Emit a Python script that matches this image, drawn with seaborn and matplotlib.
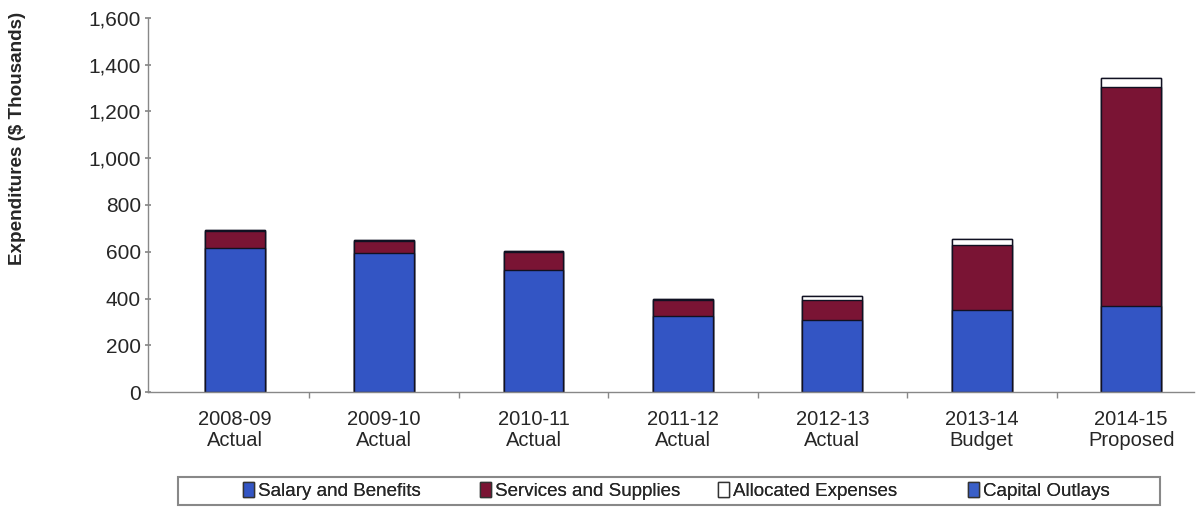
import matplotlib
matplotlib.use("Agg")
import matplotlib.pyplot as plt
from matplotlib.patches import Patch, Rectangle
from matplotlib.ticker import FuncFormatter, FixedLocator
import seaborn as sns
import pandas as pd
import numpy as np

categories = ["2008-09\nActual", "2009-10\nActual", "2010-11\nActual", "2011-12\nActual",
              "2012-13\nActual", "2013-14\nBudget", "2014-15\nProposed"]
salary = [615, 595, 520, 325, 310, 350, 370]
services = [75, 50, 80, 70, 85, 280, 935]
allocated = [5, 5, 5, 3, 15, 25, 38]
capital = [0, 0, 0, 0, 0, 0, 0]

series_names = ["Salary and Benefits", "Services and Supplies", "Allocated Expenses", "Capital Outlays"]
colors = ["#3355c4", "#7a1434", "#ffffff", "#3a5fc8"]

sns.set_theme(style="white")
plt.rcParams['font.family'] = ['Liberation Sans', 'DejaVu Sans']

df = pd.DataFrame({"cat": categories, "salary": salary, "services": services,
                   "allocated": allocated, "capital": capital})
df["c1"] = df["salary"]
df["c2"] = df["c1"] + df["services"]
df["c3"] = df["c2"] + df["allocated"]
df["c4"] = df["c3"] + df["capital"]

fig = plt.figure(figsize=(12.03, 5.08), dpi=100)
ax = fig.add_axes([148/1203, 1 - 392/508, (1194-148)/1203, (392-18)/508])

for col, c in zip(["c4", "c3", "c2", "c1"], [colors[3], colors[2], colors[1], colors[0]]):
    sns.barplot(data=df, x="cat", y=col, color=c, width=0.4, edgecolor="#111122",
                linewidth=1.0, saturation=1, ax=ax, errorbar=None)

ax.set_ylim(0, 1600)
ax.set_xlim(-0.58, 6.42)
ax.set_yticks(np.arange(0, 1601, 200))
ax.yaxis.set_major_formatter(FuncFormatter(lambda v, p: f"{int(v):,}"))
ax.tick_params(axis="y", labelsize=15, length=4, color="#888888", direction="inout", left=True, pad=3)
ax.tick_params(axis="x", labelsize=14.5, length=0, pad=13)
for t in ax.get_xticklabels():
    t.set_linespacing(1.1)
ax.xaxis.set_minor_locator(FixedLocator(np.arange(0.5, 6.5, 1)))
ax.tick_params(axis="x", which="minor", length=4, color="#888888", bottom=True, direction="out")
ax.set_xlabel("")
ax.set_ylabel("Expenditures ($ Thousands)", fontsize=13.6, fontweight="bold")
ax.yaxis.set_label_coords((26 - 148) / 1046, (392 - 138) / 374)
for s in ["top", "right"]:
    ax.spines[s].set_visible(False)
for s in ["left", "bottom"]:
    ax.spines[s].set_color("#888888")
    ax.spines[s].set_linewidth(1.0)

# legend: four fixed-width slots like the original
fig.patches.append(Rectangle((178/1203, 1 - 505/508), (1160-178)/1203, 28/508,
                             transform=fig.transFigure, fill=False, edgecolor="#888888",
                             linewidth=1.5))
slot_x = [243, 480, 718, 968]
for name, c, xp in zip(series_names, colors, slot_x):
    h = Patch(facecolor=c, edgecolor="#333333", label=name)
    lg = fig.legend(handles=[h], loc="center left", bbox_to_anchor=(xp/1203, 1 - 491/508),
                    fontsize=13.5, frameon=False, handlelength=0.6, handleheight=0.8,
                    handletextpad=0.2, borderpad=0, borderaxespad=0)
    fig.add_artist(lg)

fig.savefig("out.png", dpi=100)
